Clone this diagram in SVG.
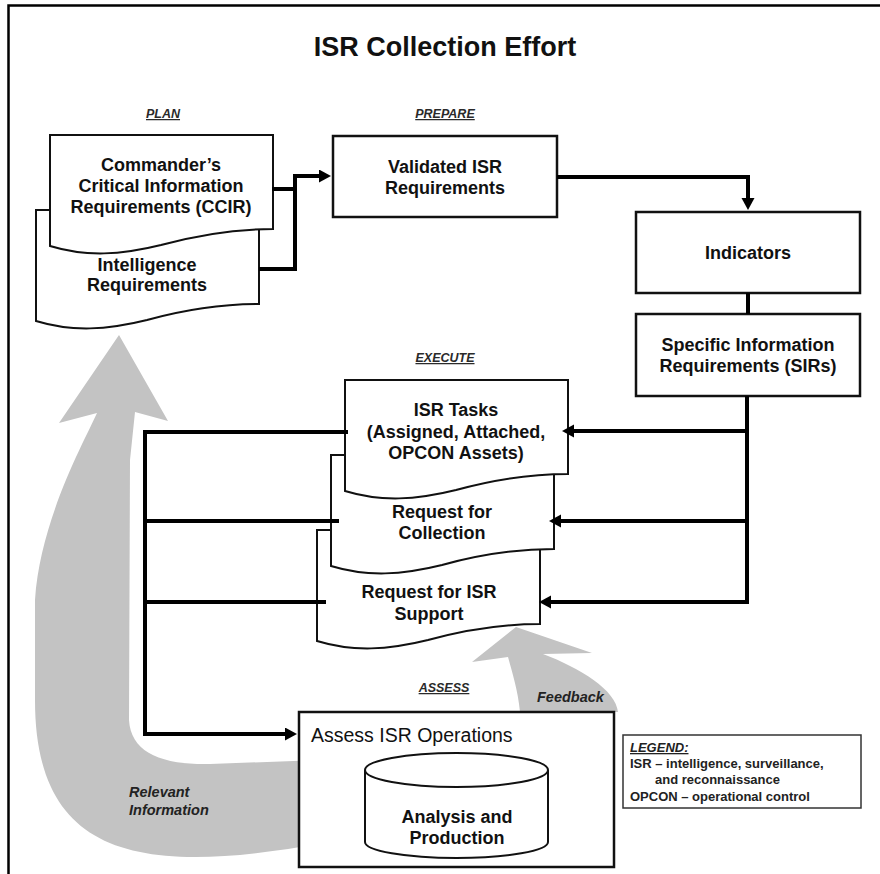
<svg xmlns="http://www.w3.org/2000/svg" xmlns:xlink="http://www.w3.org/1999/xlink" width="880" height="874" viewBox="0 0 880 874">
  <style>
    text { font-family: "Liberation Sans", Arial, sans-serif; fill: #111; }
    .title { font-size: 27px; font-weight: bold; text-anchor: middle; }
    .phase { font-size: 12.5px; font-weight: bold; font-style: italic; text-anchor: middle; text-decoration: underline; fill: #2a2a2a; }
    .lbl { font-size: 18px; font-weight: bold; text-anchor: middle; }
    .note { font-size: 14.5px; font-weight: bold; font-style: italic; fill: #222; }
    .leg { font-size: 13px; font-weight: bold; fill: #222; }
    .box { fill: #fff; stroke: #111; stroke-width: 2.5; }
    .doc { fill: #fff; stroke: #111; stroke-width: 2; }
    .flow { fill: #c3c3c3; stroke: none; }
    .conn { fill: none; stroke: #000; stroke-width: 4; }
  </style>
  <defs>
    <!-- document shape with wavy bottom edge, origin at top-left -->
    <path id="docShape" d="M0,0 H223 V94 C191,94 151,99 111,110 C71,120 36,122 0,111 Z"/>
    <marker id="head" markerUnits="userSpaceOnUse" markerWidth="14" markerHeight="14" refX="2" refY="6.5" orient="auto">
      <path d="M0,0 L12,6.5 L0,13 Z" fill="#000"/>
    </marker>
  </defs>

  <rect x="8.5" y="5.5" width="900" height="900" fill="#fff" stroke="#000" stroke-width="2.5"/>

  <text class="title" x="445" y="56">ISR Collection Effort</text>
  <text class="phase" x="163" y="118">PLAN</text>
  <text class="phase" x="445" y="118">PREPARE</text>
  <text class="phase" x="445" y="362">EXECUTE</text>
  <text class="phase" x="444" y="692">ASSESS</text>

  <!-- gray feedback flows -->
  <g id="relevant-information-flow">
    <path class="flow" d="M119,335 L168,421 L135,412 L130,460 L129,720 C131,752 160,765 210,764 L320,760 L320,846 L300,847 C130,875 35,850 35,700 L35,600 C40,520 85,440 97,413 L59,423 Z"/>
    <text class="note" x="129" y="797">Relevant</text>
    <text class="note" x="129" y="815">Information</text>
  </g>
  <g id="feedback-flow">
    <path class="flow" d="M516,627 L592,653 L543,654 C580,668 616,690 618,712 L520,712 C518,690 512,672 508,657 L472,662 Z"/>
    <text class="note" x="537" y="702">Feedback</text>
  </g>

  <!-- plan -->
  <g id="intelligence-requirements">
    <use href="#docShape" class="doc" x="36" y="210"/>
    <text class="lbl" x="147" y="271">Intelligence</text>
    <text class="lbl" x="147" y="291">Requirements</text>
  </g>
  <g id="ccir">
    <use href="#docShape" class="doc" x="50" y="135"/>
    <text class="lbl" x="161" y="171">Commander’s</text>
    <text class="lbl" x="161" y="192">Critical Information</text>
    <text class="lbl" x="161" y="213">Requirements (CCIR)</text>
  </g>

  <!-- prepare -->
  <g id="validated-isr-requirements">
    <rect class="box" x="333" y="136" width="224" height="81"/>
    <text class="lbl" x="445" y="173">Validated ISR</text>
    <text class="lbl" x="445" y="194">Requirements</text>
  </g>
  <g id="indicators">
    <rect class="box" x="636" y="212" width="224" height="81"/>
    <text class="lbl" x="748" y="259">Indicators</text>
  </g>
  <g id="sirs">
    <rect class="box" x="636" y="314" width="224" height="82"/>
    <text class="lbl" x="748" y="351">Specific Information</text>
    <text class="lbl" x="748" y="372">Requirements (SIRs)</text>
  </g>

  <!-- execute -->
  <g id="request-isr-support">
    <use href="#docShape" class="doc" x="317" y="530"/>
    <text class="lbl" x="429" y="598">Request for ISR</text>
    <text class="lbl" x="429" y="620">Support</text>
  </g>
  <g id="request-collection">
    <use href="#docShape" class="doc" x="331" y="455"/>
    <text class="lbl" x="442" y="518">Request for</text>
    <text class="lbl" x="442" y="539">Collection</text>
  </g>
  <g id="isr-tasks">
    <use href="#docShape" class="doc" x="345" y="380"/>
    <text class="lbl" x="456" y="416">ISR Tasks</text>
    <text class="lbl" x="456" y="438">(Assigned, Attached,</text>
    <text class="lbl" x="456" y="459">OPCON Assets)</text>
  </g>

  <!-- assess -->
  <g id="assess-isr-operations">
    <rect class="box" x="299" y="712" width="315" height="155"/>
    <text x="311" y="742" style="font-size:19.5px">Assess ISR Operations</text>
  </g>
  <g id="analysis-production">
    <path class="doc" d="M365,770 A91.5,17 0 0 1 548,770 V842 A91.5,16 0 0 1 365,842 Z"/>
    <path class="doc" d="M365,770 A91.5,17 0 0 0 548,770" fill="none"/>
    <text class="lbl" x="457" y="823">Analysis and</text>
    <text class="lbl" x="457" y="844">Production</text>
  </g>

  <g id="legend">
    <rect x="623" y="735" width="238" height="73" fill="#fff" stroke="#333" stroke-width="1.5"/>
    <text class="leg" x="630" y="752" style="font-style:italic;text-decoration:underline">LEGEND:</text>
    <text class="leg" x="630" y="768">ISR – intelligence, surveillance,</text>
    <text class="leg" x="655" y="784">and reconnaissance</text>
    <text class="leg" x="630" y="801">OPCON – operational control</text>
  </g>

  <!-- connectors -->
  <g id="connectors">
    <path class="conn" d="M272,189 H295 V176 H321" marker-end="url(#head)"/>
    <path class="conn" d="M259,269 H295 V176"/>
    <path class="conn" d="M557,177 H748 V200" marker-end="url(#head)"/>
    <path class="conn" d="M748,293 V314"/>
    <path class="conn" d="M747,396 V602 H549" marker-end="url(#head)"/>
    <path class="conn" d="M747,431 H572" marker-end="url(#head)"/>
    <path class="conn" d="M747,521 H559" marker-end="url(#head)"/>
    <path class="conn" d="M348,432 H145 V734 H287" marker-end="url(#head)"/>
    <path class="conn" d="M339,521 H145"/>
    <path class="conn" d="M326,602 H145"/>
  </g>
</svg>
